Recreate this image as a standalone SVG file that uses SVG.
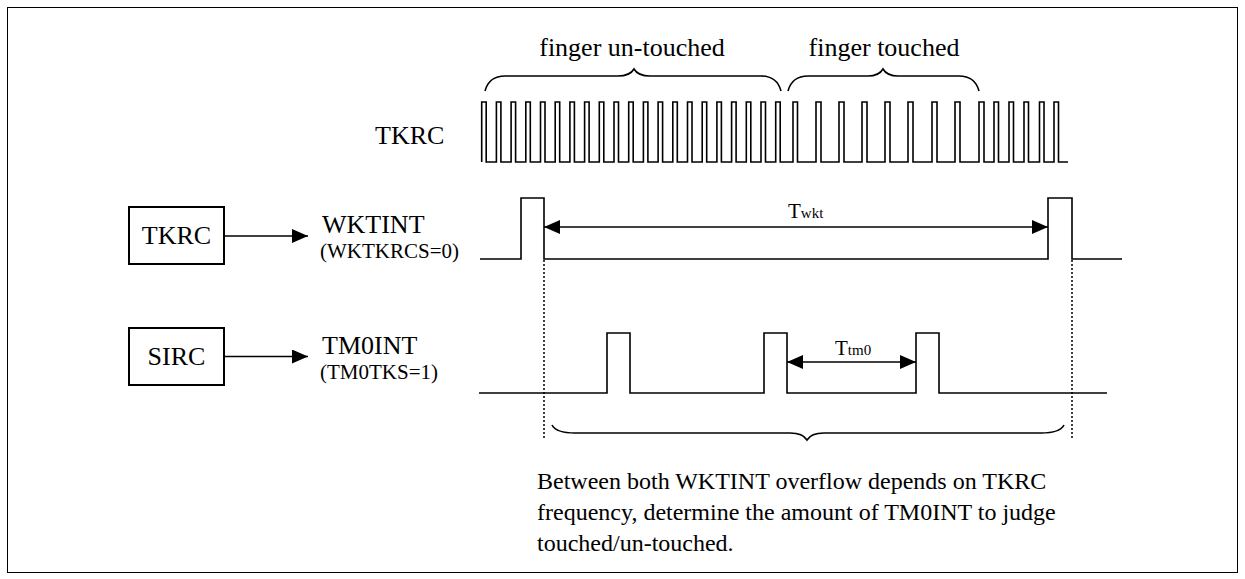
<svg xmlns="http://www.w3.org/2000/svg" width="1245" height="579" viewBox="0 0 1245 579">
<defs>
<marker id="ah" markerWidth="16" markerHeight="14" refX="16" refY="7" orient="auto-start-reverse" markerUnits="userSpaceOnUse"><path d="M0,0 L16,7 L0,14 Z" fill="#000"/></marker>
</defs>
<style>
.t{font-family:"Liberation Serif","Times New Roman",serif;fill:#000}
.b{font-size:26px}
.s{font-size:21px}
.w{fill:none;stroke:#000;stroke-width:1.6;stroke-linejoin:miter}
.box{fill:#fff;stroke:#000;stroke-width:2}
.ar{stroke:#000;stroke-width:1.6;fill:none}
.dot{stroke:#000;stroke-width:1.5;stroke-dasharray:2 2;fill:none}
.br{fill:none;stroke:#000;stroke-width:1.6}
</style>
<rect x="7.5" y="7.5" width="1230" height="565" fill="#fff" stroke="#000" stroke-width="1"/>

<g id="labels-top">
<text class="t b" x="632" y="56" text-anchor="middle">finger un-touched</text>
<text class="t b" x="884" y="56" text-anchor="middle">finger touched</text>
<path class="br" d="M485,91 Q489,76 505,76 H618 Q630,76 634,69 Q638,76 650,76 H761 Q777,76 781,91"/>
<path class="br" d="M788,91 Q792,76 808,76 H868 Q879,76 883,69 Q887,76 898,76 H959 Q975,76 979,91"/>
</g>

<g id="tkrc-wave">
<text class="t b" x="375" y="144">TKRC</text>
<path class="w" d="M481.7,162 V102 H486.2 V162 H496.4 V102 H500.9 V162 H511.1 V102 H515.6 V162 H525.8 V102 H530.3 V162 H540.5 V102 H545 V162 H555.2 V102 H559.7 V162 H569.9 V102 H574.4 V162 H584.6 V102 H589.1 V162 H599.3 V102 H603.8 V162 H614 V102 H618.5 V162 H628.7 V102 H633.2 V162 H643.4 V102 H647.9 V162 H658.1 V102 H662.6 V162 H672.8 V102 H677.3 V162 H687.5 V102 H692 V162 H702.2 V102 H706.7 V162 H716.9 V102 H721.4 V162 H731.6 V102 H736.1 V162 H746.3 V102 H750.8 V162 H761 V102 H765.5 V162 H775.7 V102 H780.2 V162 H793 V102 H797.5 V162 H816 V102 H821 V162 H839 V102 H844 V162 H862 V102 H867 V162 H885 V102 H890 V162 H908 V102 H913 V162 H932 V102 H937 V162 H955 V102 H960 V162 H979 V102 H984 V162 H994 V102 H998.5 V162 H1009 V102 H1013.5 V162 H1024 V102 H1028.5 V162 H1039.5 V102 H1044 V162 H1054 V102 H1058.5 V162 H1068"/>
</g>

<g id="node-tkrc">
<rect class="box" x="129" y="207" width="95" height="57"/>
<text class="t b" x="176.5" y="244" text-anchor="middle">TKRC</text>
</g>
<g id="node-wktint">
<text class="t b" x="322" y="233">WKTINT</text>
<text class="t s" x="320" y="258">(WKTKRCS=0)</text>
</g>
<g id="node-sirc">
<rect class="box" x="129" y="328" width="95" height="57"/>
<text class="t b" x="176.5" y="365" text-anchor="middle">SIRC</text>
</g>
<g id="node-tm0int">
<text class="t b" x="322" y="354">TM0INT</text>
<text class="t s" x="320" y="379">(TM0TKS=1)</text>
</g>

<g id="waves">
<path class="w" d="M480,259 H521 V198 H544 V259 H1048 V198 H1072 V259 H1122"/>
<path class="w" d="M479,393 H607 V333 H630 V393 H764 V333 H787 V393 H916 V333 H939 V393 H1107"/>
<text class="t" x="788" y="218"><tspan font-size="21">T</tspan><tspan font-size="15">wkt</tspan></text>
<text class="t" x="835" y="355"><tspan font-size="21">T</tspan><tspan font-size="15">tm0</tspan></text>
</g>

<g id="connectors">
<line class="ar" x1="224" y1="236" x2="308" y2="236" marker-end="url(#ah)"/>
<line class="ar" x1="224" y1="356.5" x2="308" y2="356.5" marker-end="url(#ah)"/>
<line class="ar" x1="544" y1="227" x2="1048" y2="227" marker-start="url(#ah)" marker-end="url(#ah)"/>
<line class="ar" x1="787" y1="362" x2="916" y2="362" marker-start="url(#ah)" marker-end="url(#ah)"/>
<line class="dot" x1="544" y1="260" x2="544" y2="440"/>
<line class="dot" x1="1072" y1="260" x2="1072" y2="440"/>
</g>

<g id="note">
<path class="br" d="M552,425 Q556,433 575,433 H790 Q803,433 807,440 Q811,433 824,433 H1041 Q1060,433 1064,425"/>
<text class="t" font-size="24" x="537" y="489">Between both WKTINT overflow depends on TKRC</text>
<text class="t" font-size="24" x="537" y="520">frequency, determine the amount of TM0INT to judge</text>
<text class="t" font-size="24" x="537" y="551">touched/un-touched.</text>
</g>
</svg>
